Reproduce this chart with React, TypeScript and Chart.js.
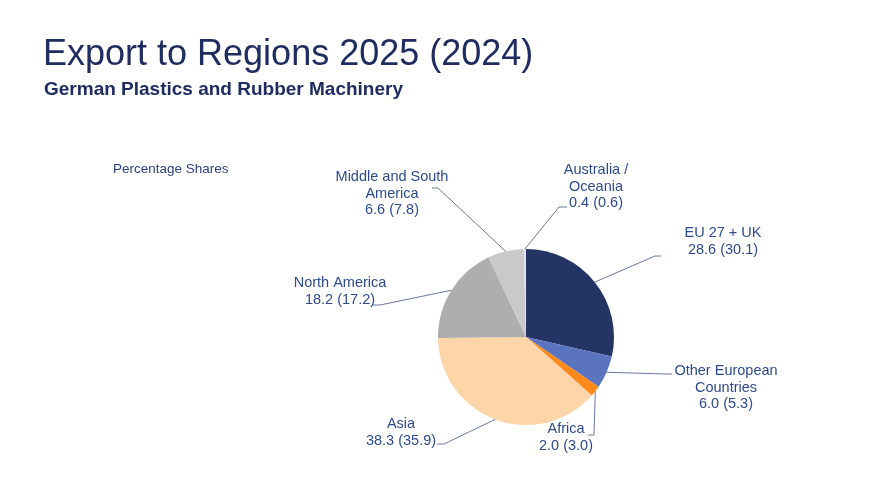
import React, { useEffect, useRef } from "react";
import { Chart, registerables } from "chart.js";

Chart.register(...registerables);

// Export shares by region, 2025 with 2024 in brackets (percent)
const regions = [
  "EU 27 + UK",
  "Other European Countries",
  "Africa",
  "Asia",
  "North America",
  "Middle and South America",
  "Australia / Oceania",
];
const shares2025 = [28.6, 6.0, 2.0, 38.3, 18.2, 6.6, 0.4];
const shares2024 = [30.1, 5.3, 3.0, 35.9, 17.2, 7.8, 0.6];

const sliceColors = [
  "#243465",
  "#5b74bf",
  "#ff8a1a",
  "#fdd5a8",
  "#aeaeae",
  "#c9c9c9",
  "#dde3f2",
];

// Number of words kept on the first line of each label (0 = single line)
const firstLineWords = [0, 2, 0, 0, 0, 3, 2];

// Label placement: text centre x, first baseline y, leader start and elbow
const labelPlacement = [
  { x: 723, y: 237, anchor: [661, 256], elbow: [655, 256] },
  { x: 726, y: 375, anchor: [672, 374], elbow: [666, 374] },
  { x: 566, y: 433, anchor: [588, 435], elbow: [594, 435] },
  { x: 401, y: 428, anchor: [437, 444], elbow: [444, 444] },
  { x: 340, y: 287, anchor: [372, 305], elbow: [380, 305] },
  { x: 392, y: 181, anchor: [432, 188], elbow: [438, 188] },
  { x: 596, y: 174, anchor: [567, 207], elbow: [559, 207] },
];

const LABEL_FONT = "14.5px 'Liberation Sans', Arial, sans-serif";
const LABEL_COLOR = "#2d4b8c";
const LEADER_COLOR = "#6a789e";
const LINE_HEIGHT = 16.5;

function wrapLabel(name: string, words: number): string[] {
  if (!words) return [name];
  const parts = name.split(" ");
  return [parts.slice(0, words).join(" "), parts.slice(words).join(" ")];
}

const leaderLabels = {
  id: "leaderLabels",
  afterDatasetsDraw(chart: Chart) {
    const ctx = chart.ctx;
    const meta = chart.getDatasetMeta(0);
    ctx.save();
    meta.data.forEach((el: any, i: number) => {
      const { x, y, startAngle, endAngle, outerRadius } = el.getProps(
        ["x", "y", "startAngle", "endAngle", "outerRadius"],
        true
      );
      const mid = (startAngle + endAngle) / 2;
      const px = x + Math.cos(mid) * outerRadius;
      const py = y + Math.sin(mid) * outerRadius;
      const p = labelPlacement[i];

      ctx.strokeStyle = LEADER_COLOR;
      ctx.lineWidth = 1;
      ctx.beginPath();
      ctx.moveTo(p.anchor[0], p.anchor[1]);
      ctx.lineTo(p.elbow[0], p.elbow[1]);
      ctx.lineTo(px, py);
      ctx.stroke();

      const lines = wrapLabel(regions[i], firstLineWords[i]);
      lines.push(`${shares2025[i].toFixed(1)} (${shares2024[i].toFixed(1)})`);
      ctx.font = LABEL_FONT;
      ctx.fillStyle = LABEL_COLOR;
      ctx.textAlign = "center";
      ctx.textBaseline = "alphabetic";
      lines.forEach((line, k) => {
        ctx.fillText(line, p.x, p.y + k * LINE_HEIGHT);
      });
    });
    ctx.restore();
  },
};

export default function App() {
  const canvasRef = useRef<HTMLCanvasElement | null>(null);

  useEffect(() => {
    if (!canvasRef.current) return;
    const chart = new Chart(canvasRef.current, {
      type: "pie",
      data: {
        labels: regions,
        datasets: [
          {
            data: shares2025,
            backgroundColor: sliceColors,
            borderWidth: 0,
          },
        ],
      },
      options: {
        responsive: false,
        animation: false,
        layout: { padding: { left: 438, right: 261, top: 249, bottom: 75 } },
        plugins: {
          legend: { display: false },
          tooltip: { enabled: false },
        },
      },
      plugins: [leaderLabels],
    });
    return () => chart.destroy();
  }, []);

  const font = "'Liberation Sans', Arial, sans-serif";
  return (
    <div
      style={{
        position: "fixed",
        left: 0,
        top: 0,
        width: 875,
        height: 500,
        background: "#ffffff",
        fontFamily: font,
      }}
    >
      <canvas ref={canvasRef} width={875} height={500} style={{ position: "absolute", left: 0, top: 0 }} />
      <div
        style={{
          position: "absolute",
          left: 43,
          top: 35,
          fontSize: 36,
          lineHeight: "36px",
          color: "#1e2c60",
          whiteSpace: "nowrap",
        }}
      >
        Export to Regions 2025 (2024)
      </div>
      <div
        style={{
          position: "absolute",
          left: 44,
          top: 79,
          fontSize: 19,
          lineHeight: "19px",
          fontWeight: "bold",
          color: "#1e2c60",
          whiteSpace: "nowrap",
        }}
      >
        German Plastics and Rubber Machinery
      </div>
      <div
        style={{
          position: "absolute",
          left: 113,
          top: 162,
          fontSize: 13.5,
          lineHeight: "13.5px",
          color: "#2a3f7e",
          whiteSpace: "nowrap",
        }}
      >
        Percentage Shares
      </div>
    </div>
  );
}
